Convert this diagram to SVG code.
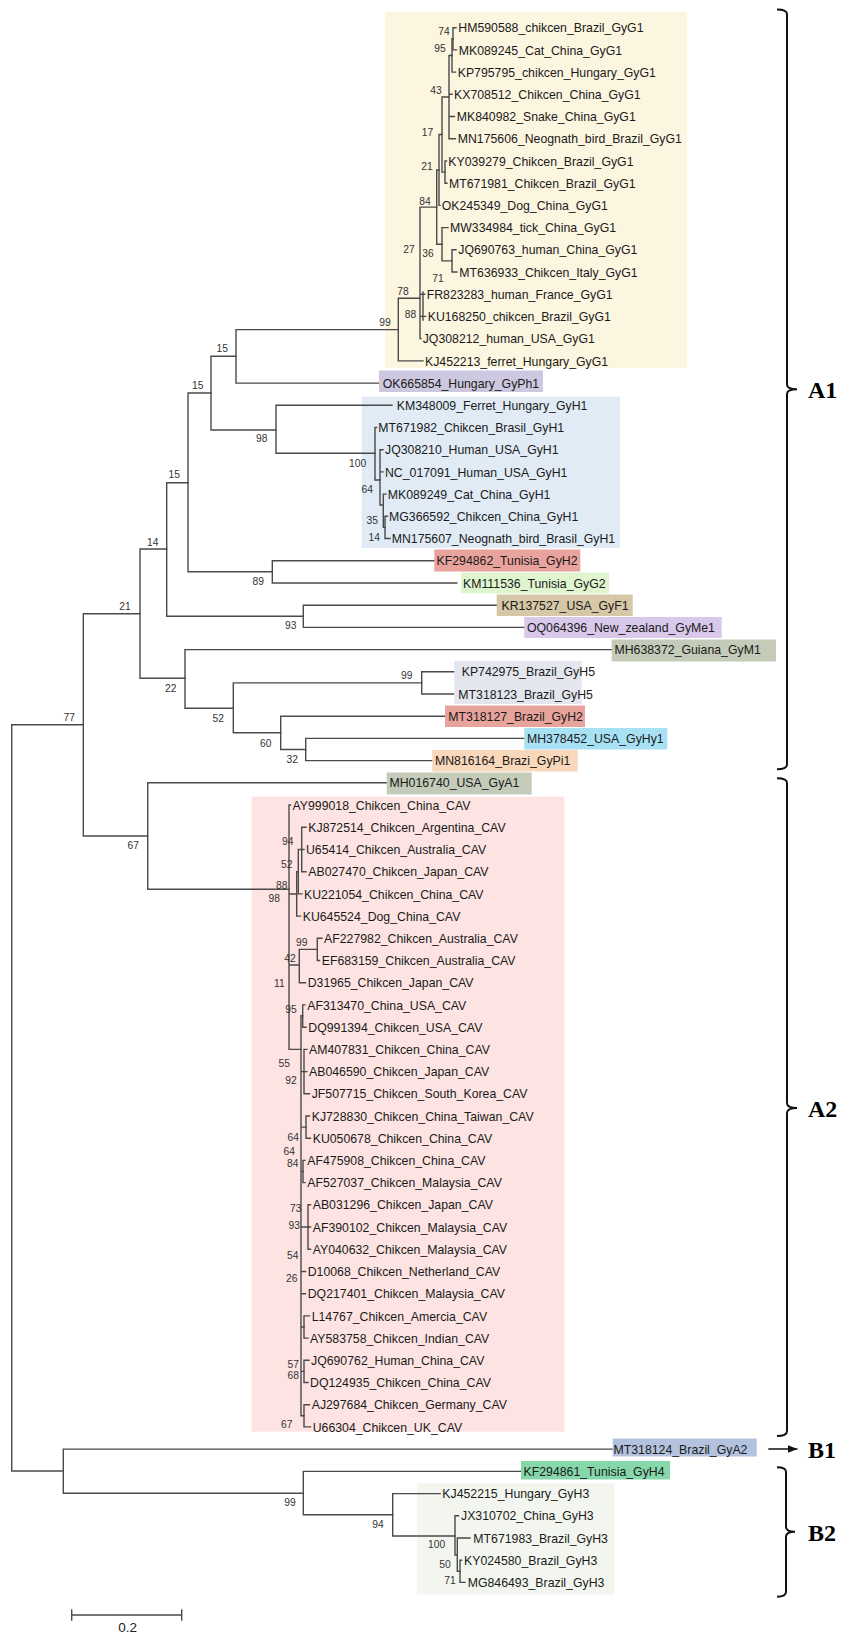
<svg xmlns="http://www.w3.org/2000/svg" width="851" height="1647" viewBox="0 0 851 1647">
<defs>
<style>
.br{stroke:#4a4a4a;stroke-width:1.4;fill:none;stroke-linecap:square}
.lf text,text.lf{font-family:"Liberation Sans",Arial,sans-serif;font-size:12.3px;fill:#1a1a1a;transform-box:fill-box;transform-origin:0% 60%;transform:scale(1,1.09)}
.sm{font-size:11px}
.bs text{font-family:"Liberation Sans",Arial,sans-serif;font-size:10.3px;fill:#333;text-anchor:middle;transform-box:fill-box;transform-origin:50% 60%;transform:scale(1,1.12)}
.cl{font-family:"Liberation Serif","Times New Roman",serif;font-size:24px;font-weight:bold;fill:#000}
.bk{stroke:#111;stroke-width:2;fill:none}
</style>
<marker id="ah" markerWidth="10" markerHeight="8" refX="10" refY="4" orient="auto" markerUnits="userSpaceOnUse">
<path d="M0,0 L10,4 L0,8 Z" fill="#111"/>
</marker>
</defs>
<rect width="851" height="1647" fill="#fff"/>

<g id="clade-backgrounds">
<rect x="385" y="11.7" width="302" height="356.3" fill="#fcf5e0"/>
<rect x="361.7" y="396.7" width="258.3" height="151.3" fill="#e0ebf5"/>
<rect x="251.7" y="796.7" width="312.6" height="635" fill="#fde4e3"/>
<rect x="417" y="1483.3" width="197.3" height="111" fill="#f2f6ee"/>
</g>

<g id="branches" class="br">
<path d="M453,27.7V49.9M453,27.7H456M453,49.9H456.5"/>
<path d="M452,38.8V72.1M452,38.8H453M452,72.1H455.5"/>
<path d="M449,55.5V138.8M449,55.5H452M449,94.3H452M449,116.5H454.5M449,138.8H455.5"/>
<path d="M445,161V183.2M445,161H446.5M445,183.2H447"/>
<path d="M442,97V172.1M442,97H449M442,172.1H445"/>
<path d="M439,134.5V205.4M439,134.5H442M439,205.4H440"/>
<path d="M452,249.8V272M452,249.8H456M452,272H457"/>
<path d="M442,227.6V260.9M442,227.6H448M442,260.9H452"/>
<path d="M436.7,170V244.2M436.7,170H439M436.7,244.2H442"/>
<path d="M420,207.1V338.6M420,207.1H436.7M420,294.2H424.7M420,316.4H425.7M420,338.6H421"/>
<path d="M423,292V320"/>
<path d="M398.3,298.3V360.9M398.3,298.3H420M398.3,360.9H423"/>
<path d="M236,329.6V383.1M236,329.6H398.3M236,383.1H379"/>
<path d="M211,356.3V430M211,356.3H236M211,430H276"/>
<path d="M276,405.3V453.3M276,405.3H392M276,453.3H375"/>
<path d="M375,427.5V480M375,427.5H376.5M375,480H380"/>
<path d="M380,449.7V505M380,449.7H383M380,471.9H383M380,505H383.3"/>
<path d="M383.3,494.1V527.4M383.3,494.1H386M383.3,527.4H385"/>
<path d="M385,516.3V538.5M385,516.3H387.5M385,538.5H390"/>
<path d="M188,393V571.8M188,393H211M188,571.8H272.3"/>
<path d="M272.3,560.7V583M272.3,560.7H434.3M272.3,583H456.7"/>
<path d="M166.7,482.7V616.3M166.7,482.7H188M166.7,616.3H303.3"/>
<path d="M303.3,605.2V627.4M303.3,605.2H496.7M303.3,627.4H524.3"/>
<path d="M140,549V678.3M140,549H166.7M140,678.3H185"/>
<path d="M185,649.6V708.3M185,649.6H611.7M185,708.3H233.3"/>
<path d="M233.3,682.9V732.7M233.3,682.9H421.7M233.3,732.7H280.7"/>
<path d="M421.7,671.8V694M421.7,671.8H456M421.7,694H453.3"/>
<path d="M280.7,716.2V749.5M280.7,716.2H445M280.7,749.5H305.7"/>
<path d="M305.7,738.4V760.6M305.7,738.4H524.3M305.7,760.6H432.3"/>
<path d="M83.3,613.7V836M83.3,613.7H140M83.3,836H147.7"/>
<path d="M147.7,782.8V889.3M147.7,782.8H386.7M147.7,889.3H289"/>
<path d="M11.7,724.8V1471M11.7,724.8H83.3M11.7,1471H63.3"/>
<path d="M289,805V1049.4M289,805H290.5M289,894H296.7M289,965H299.3M289,1049.4H301"/>
<path d="M296.7,871.7V916.1M296.7,871.7H298.3M296.7,916.1H300.5"/>
<path d="M298.3,849.5V893.9M298.3,849.5H301.7M298.3,893.9H302"/>
<path d="M301.7,827.3V871.7M301.7,827.3H306M301.7,849.5H304M301.7,871.7H306"/>
<path d="M299.3,949.4V982.7M299.3,949.4H317.3M299.3,982.7H305.5"/>
<path d="M317.3,938.3V960.5M317.3,938.3H322M317.3,960.5H319.5"/>
<path d="M301,1015.8V1415.8M301,1015.8H302.7M301,1071.6H304M301,1127.1H306M301,1171.5H303M301,1227H308M301,1271.5H305.5M301,1293.7H305.5M301,1327H304M301,1371.4H304M301,1415.8H304"/>
<path d="M302.7,1004.9V1027.2M302.7,1004.9H305M302.7,1027.2H306"/>
<path d="M304,1049.4V1093.8M304,1049.4H307M304,1071.6H307M304,1093.8H309.5"/>
<path d="M306,1116V1138.2M306,1116H309.5M306,1138.2H310.5"/>
<path d="M303,1160.4V1182.6M303,1160.4H305M303,1182.6H305"/>
<path d="M308,1204.8V1249.3M308,1204.8H310.5M308,1227H310.5M308,1249.3H310.5"/>
<path d="M304,1315.9V1338.1M304,1315.9H309.5M304,1338.1H308"/>
<path d="M304,1360.3V1382.5M304,1360.3H309M304,1382.5H308"/>
<path d="M304,1404.7V1426.9M304,1404.7H309.5M304,1426.9H310.5"/>
<path d="M63.3,1449.1V1493.3M63.3,1449.1H612.7M63.3,1493.3H303.3"/>
<path d="M303.3,1471.4V1514.8M303.3,1471.4H521M303.3,1514.8H392.7"/>
<path d="M392.7,1493.6V1536M392.7,1493.6H440M392.7,1536H455"/>
<path d="M455,1515.8V1555M455,1515.8H458.5M455,1555H457.3"/>
<path d="M457.3,1538V1571.3M457.3,1538H470M457.3,1571.3H460"/>
<path d="M460,1560.2V1582.4M460,1560.2H461.5M460,1582.4H465"/>
</g>

<g id="support-values" class="bs">
<text x="444" y="34.7">74</text>
<text x="440" y="51.4">95</text>
<text x="436" y="93.7">43</text>
<text x="427.6" y="135.4">17</text>
<text x="427" y="169.4">21</text>
<text x="425" y="204.7">84</text>
<text x="409" y="253">27</text>
<text x="428" y="257">36</text>
<text x="438" y="281.4">71</text>
<text x="403" y="294.4">78</text>
<text x="410.5" y="318">88</text>
<text x="385" y="325.4">99</text>
<text x="222.3" y="351.4">15</text>
<text x="197.7" y="388.7">15</text>
<text x="261.7" y="442">98</text>
<text x="357.7" y="467">100</text>
<text x="367.3" y="493">64</text>
<text x="372.3" y="523.7">35</text>
<text x="374.3" y="540.4">14</text>
<text x="174.3" y="477.7">15</text>
<text x="152.7" y="546">14</text>
<text x="258.3" y="584.7">89</text>
<text x="125" y="609.4">21</text>
<text x="290.7" y="628.7">93</text>
<text x="406.7" y="678.7">99</text>
<text x="170.7" y="692">22</text>
<text x="218.3" y="721.4">52</text>
<text x="265.7" y="746.4">60</text>
<text x="292.3" y="762.7">32</text>
<text x="69.3" y="720.4">77</text>
<text x="133.3" y="848.7">67</text>
<text x="287.7" y="844.7">94</text>
<text x="286.7" y="867.7">52</text>
<text x="281.7" y="888.7">88</text>
<text x="274.3" y="902">98</text>
<text x="301.7" y="945.4">99</text>
<text x="290" y="962">42</text>
<text x="279.3" y="987">11</text>
<text x="291" y="1013">95</text>
<text x="284.3" y="1066.4">55</text>
<text x="291" y="1083.7">92</text>
<text x="293.3" y="1140.4">64</text>
<text x="289.3" y="1154.4">64</text>
<text x="292.7" y="1166.4">84</text>
<text x="295.7" y="1212">73</text>
<text x="294.3" y="1228.7">93</text>
<text x="292.7" y="1258.7">54</text>
<text x="291.7" y="1281.4">26</text>
<text x="293.3" y="1367.7">57</text>
<text x="293.3" y="1378.7">68</text>
<text x="286.7" y="1427.7">67</text>
<text x="290" y="1505.4">99</text>
<text x="378" y="1527.7">94</text>
<text x="436.7" y="1547.7">100</text>
<text x="445" y="1567.7">50</text>
<text x="450" y="1583.7">71</text>
</g>

<g id="leaves" class="lf">
<g id="n-HM590588"><text x="458.3" y="32.1">HM590588_chikcen_Brazil_GyG1</text></g>
<g id="n-MK089245"><text x="458.7" y="54.3">MK089245_Cat_China_GyG1</text></g>
<g id="n-KP795795"><text x="457.7" y="76.5">KP795795_chikcen_Hungary_GyG1</text></g>
<g id="n-KX708512"><text x="454" y="98.7">KX708512_Chikcen_China_GyG1</text></g>
<g id="n-MK840982"><text x="456.7" y="120.9">MK840982_Snake_China_GyG1</text></g>
<g id="n-MN175606"><text x="457.7" y="143.2">MN175606_Neognath_bird_Brazil_GyG1</text></g>
<g id="n-KY039279"><text x="448.3" y="165.4">KY039279_Chikcen_Brazil_GyG1</text></g>
<g id="n-MT671981"><text x="449" y="187.6">MT671981_Chikcen_Brazil_GyG1</text></g>
<g id="n-OK245349"><text x="441.7" y="209.8">OK245349_Dog_China_GyG1</text></g>
<g id="n-MW334984"><text x="450" y="232">MW334984_tick_China_GyG1</text></g>
<g id="n-JQ690763"><text x="458.3" y="254.2">JQ690763_human_China_GyG1</text></g>
<g id="n-MT636933"><text x="459.3" y="276.4">MT636933_Chikcen_Italy_GyG1</text></g>
<g id="n-FR823283"><text x="426.7" y="298.6">FR823283_human_France_GyG1</text></g>
<g id="n-KU168250"><text x="427.7" y="320.8">KU168250_chikcen_Brazil_GyG1</text></g>
<g id="n-JQ308212"><text x="422.7" y="343">JQ308212_human_USA_GyG1</text></g>
<g id="n-KJ452213"><text x="425" y="365.3">KJ452213_ferret_Hungary_GyG1</text></g>
<g id="n-OK665854"><rect x="379" y="370.5" width="164" height="21.5" fill="#cdc8df"/><text x="382.7" y="387.5">OK665854_Hungary_GyPh1</text></g>
<g id="n-KM348009"><text x="396.7" y="409.7">KM348009_Ferret_Hungary_GyH1</text></g>
<g id="n-MT671982"><text x="378.3" y="431.9">MT671982_Chikcen_Brasil_GyH1</text></g>
<g id="n-JQ308210"><text x="385" y="454.1">JQ308210_Human_USA_GyH1</text></g>
<g id="n-NC_017091"><text x="385" y="476.3">NC_017091_Human_USA_GyH1</text></g>
<g id="n-MK089249"><text x="387.7" y="498.5">MK089249_Cat_China_GyH1</text></g>
<g id="n-MG366592"><text x="389" y="520.7">MG366592_Chikcen_China_GyH1</text></g>
<g id="n-MN175607"><text x="391.7" y="542.9">MN175607_Neognath_bird_Brasil_GyH1</text></g>
<g id="n-KF294862"><rect x="434.3" y="549.5" width="146" height="22" fill="#e9a39d"/><text x="436.5" y="565.1">KF294862_Tunisia_GyH2</text></g>
<g id="n-KM111536"><rect x="461" y="572.5" width="148" height="21" fill="#dff5d0"/><text x="463" y="587.4">KM111536_Tunisia_GyG2</text></g>
<g id="n-KR137527"><rect x="496.7" y="594.5" width="136" height="21.5" fill="#d6c7a7"/><text x="501.5" y="609.6">KR137527_USA_GyF1</text></g>
<g id="n-OQ064396"><rect x="524.3" y="617" width="197.4" height="21" fill="#d9c8ea"/><text x="527" y="631.8">OQ064396_New_zealand_GyMe1</text></g>
<g id="n-MH638372"><rect x="611.7" y="639.5" width="164.3" height="22" fill="#c4cbb8"/><text x="614.5" y="654">MH638372_Guiana_GyM1</text></g>
<g id="n-KP742975"><rect x="454.3" y="661" width="127.4" height="43" fill="#e3e6ee"/><text class="lf sm" x="461.7" y="676.2">KP742975_Brazil_GyH5</text></g>
<g id="n-MT318123"><text class="lf sm" x="458.3" y="698.4">MT318123_Brazil_GyH5</text></g>
<g id="n-MT318127"><rect x="445" y="705.5" width="140" height="21.5" fill="#e9a39d"/><text x="448.3" y="720.6">MT318127_Brazil_GyH2</text></g>
<g id="n-MH378452"><rect x="524.3" y="728" width="143" height="21.5" fill="#a9e1f4"/><text x="527" y="742.8">MH378452_USA_GyHy1</text></g>
<g id="n-MN816164"><rect x="432.3" y="750" width="145.4" height="21.5" fill="#f8d7ba"/><text x="435" y="765">MN816164_Brazi_GyPi1</text></g>
<g id="n-MH016740"><rect x="386.7" y="772.5" width="145" height="22" fill="#c4cbb8"/><text x="389.5" y="787.2">MH016740_USA_GyA1</text></g>
<g id="n-AY999018"><text x="292.5" y="809.5">AY999018_Chikcen_China_CAV</text></g>
<g id="n-KJ872514"><text x="308.3" y="831.7">KJ872514_Chikcen_Argentina_CAV</text></g>
<g id="n-U65414"><text x="306" y="853.9">U65414_Chikcen_Australia_CAV</text></g>
<g id="n-AB027470"><text x="308.3" y="876.1">AB027470_Chikcen_Japan_CAV</text></g>
<g id="n-KU221054"><text x="304" y="898.3">KU221054_Chikcen_China_CAV</text></g>
<g id="n-KU645524"><text x="302.7" y="920.5">KU645524_Dog_China_CAV</text></g>
<g id="n-AF227982"><text x="324" y="942.7">AF227982_Chikcen_Australia_CAV</text></g>
<g id="n-EF683159"><text x="321.7" y="964.9">EF683159_Chikcen_Australia_CAV</text></g>
<g id="n-D31965"><text x="307.7" y="987.1">D31965_Chikcen_Japan_CAV</text></g>
<g id="n-AF313470"><text x="307.3" y="1009.3">AF313470_China_USA_CAV</text></g>
<g id="n-DQ991394"><text x="308.3" y="1031.6">DQ991394_Chikcen_USA_CAV</text></g>
<g id="n-AM407831"><text x="309" y="1053.8">AM407831_Chikcen_China_CAV</text></g>
<g id="n-AB046590"><text x="309" y="1076">AB046590_Chikcen_Japan_CAV</text></g>
<g id="n-JF507715"><text x="311.7" y="1098.2">JF507715_Chikcen_South_Korea_CAV</text></g>
<g id="n-KJ728830"><text x="311.7" y="1120.4">KJ728830_Chikcen_China_Taiwan_CAV</text></g>
<g id="n-KU050678"><text x="312.7" y="1142.6">KU050678_Chikcen_China_CAV</text></g>
<g id="n-AF475908"><text x="307.3" y="1164.8">AF475908_Chikcen_China_CAV</text></g>
<g id="n-AF527037"><text x="307.3" y="1187">AF527037_Chikcen_Malaysia_CAV</text></g>
<g id="n-AB031296"><text x="312.7" y="1209.2">AB031296_Chikcen_Japan_CAV</text></g>
<g id="n-AF390102"><text x="312.7" y="1231.4">AF390102_Chikcen_Malaysia_CAV</text></g>
<g id="n-AY040632"><text x="312.7" y="1253.7">AY040632_Chikcen_Malaysia_CAV</text></g>
<g id="n-D10068"><text x="307.7" y="1275.9">D10068_Chikcen_Netherland_CAV</text></g>
<g id="n-DQ217401"><text x="307.7" y="1298.1">DQ217401_Chikcen_Malaysia_CAV</text></g>
<g id="n-L14767"><text x="311.7" y="1320.3">L14767_Chikcen_Amercia_CAV</text></g>
<g id="n-AY583758"><text x="310" y="1342.5">AY583758_Chikcen_Indian_CAV</text></g>
<g id="n-JQ690762"><text x="311" y="1364.7">JQ690762_Human_China_CAV</text></g>
<g id="n-DQ124935"><text x="310" y="1386.9">DQ124935_Chikcen_China_CAV</text></g>
<g id="n-AJ297684"><text x="311.7" y="1409.1">AJ297684_Chikcen_Germany_CAV</text></g>
<g id="n-U66304"><text x="312.7" y="1431.3">U66304_Chikcen_UK_CAV</text></g>
<g id="n-MT318124"><rect x="612.7" y="1438.5" width="144" height="18" fill="#b3c2de"/><text x="613.5" y="1453.5">MT318124_Brazil_GyA2</text></g>
<g id="n-KF294861"><rect x="521" y="1461" width="149" height="18.5" fill="#86d8ab"/><text x="523.5" y="1475.8">KF294861_Tunisia_GyH4</text></g>
<g id="n-KJ452215"><text x="442.3" y="1498">KJ452215_Hungary_GyH3</text></g>
<g id="n-JX310702"><text x="461" y="1520.2">JX310702_China_GyH3</text></g>
<g id="n-MT671983"><text x="473.3" y="1542.4">MT671983_Brazil_GyH3</text></g>
<g id="n-KY024580"><text x="464" y="1564.6">KY024580_Brazil_GyH3</text></g>
<g id="n-MG846493"><text x="467.7" y="1586.8">MG846493_Brazil_GyH3</text></g>
</g>

<g id="scale-bar">
<path class="br" d="M71.7,1615H181.7M71.7,1610V1620M181.7,1610V1620"/>
<text x="127.7" y="1632" font-family="Liberation Sans, Arial, sans-serif" font-size="13.5" fill="#222" text-anchor="middle">0.2</text>
</g>

<g id="clade-brackets">
<g id="bracket-A1"><path class="bk" d="M777,9.4Q787,9.4 787,14V384.5Q787,389.3 797,389.3Q787,389.3 787,394V764.5Q787,769.3 777,769.3"/><text class="cl" x="808" y="398">A1</text></g>
<g id="bracket-A2"><path class="bk" d="M777,778.3Q787,778.3 787,783V1103Q787,1108 797,1108Q787,1108 787,1113V1431Q787,1436 777,1436"/><text class="cl" x="808" y="1116.5">A2</text></g>
<g id="bracket-B1"><line x1="768.3" y1="1449" x2="797.5" y2="1449" stroke="#111" stroke-width="1.5" marker-end="url(#ah)"/><text class="cl" x="808" y="1458">B1</text></g>
<g id="bracket-B2"><path class="bk" d="M777,1467.3Q786,1467.3 786,1472V1527Q786,1531.7 795,1531.7Q786,1531.7 786,1536.5V1592Q786,1596.7 777,1596.7"/><text class="cl" x="808" y="1540.5">B2</text></g>
</g>
</svg>
